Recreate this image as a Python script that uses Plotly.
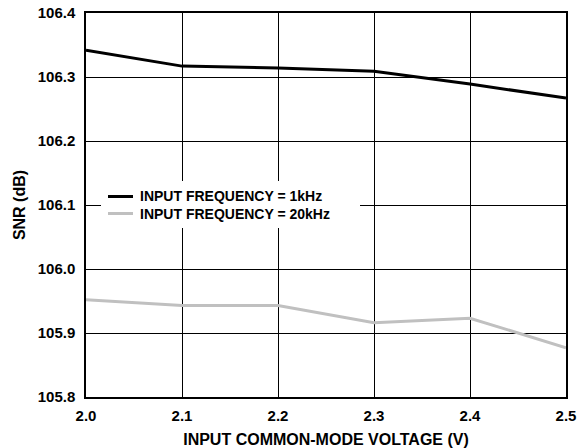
import plotly.graph_objects as go

voltage = [2.0, 2.1, 2.2, 2.3, 2.4, 2.5]
snr_1khz = [106.342, 106.317, 106.314, 106.309, 106.289, 106.267]
snr_20khz = [105.952, 105.943, 105.943, 105.916, 105.923, 105.877]
x_ticks = [2.0, 2.1, 2.2, 2.3, 2.4, 2.5]
y_ticks = [105.8, 105.9, 106.0, 106.1, 106.2, 106.3, 106.4]
series_names = ["INPUT FREQUENCY = 1kHz", "INPUT FREQUENCY = 20kHz"]
series_colors = ["#000000", "#c0c0c0"]

font_family = "Liberation Sans, Arial, sans-serif"

# plot area in pixels (for converting legend layout to paper coords)
L, T, W, H = 86, 13, 480, 384
def px(x):
    return (x - L) / W
def py(y):
    return 1 - (y - T) / H

fig = go.Figure()
for vals, name, col in zip([snr_1khz, snr_20khz], series_names, series_colors):
    fig.add_trace(go.Scatter(x=voltage, y=vals, mode="lines", name=name,
                             showlegend=False,
                             line=dict(color=col, width=3)))

# legend drawn in paper coordinates
shapes = [dict(type="rect", xref="paper", yref="paper",
               x0=px(101), x1=px(360), y0=py(228), y1=py(181),
               fillcolor="white", line=dict(width=0), layer="above")]
annotations = []
for i, (name, col) in enumerate(zip(series_names, series_colors)):
    yy = py(196.5 + 17 * i)
    shapes.append(dict(type="line", xref="paper", yref="paper",
                       x0=px(108), x1=px(133), y0=yy, y1=yy,
                       line=dict(color=col, width=3), layer="above"))
    annotations.append(dict(xref="paper", yref="paper", x=px(139), y=yy,
                            xanchor="left", yanchor="middle", showarrow=False,
                            text=name, borderpad=0,
                            font=dict(family=font_family, size=14,
                                      color="black", weight="bold")))

fig.update_layout(
    width=583, height=448,
    margin=dict(l=L, r=583 - L - W, t=T, b=448 - T - H, autoexpand=False),
    paper_bgcolor="white", plot_bgcolor="white",
    font=dict(family=font_family, size=14, color="black"),
    showlegend=False,
    shapes=shapes,
    annotations=annotations,
    xaxis=dict(range=[2.0, 2.5], tickvals=x_ticks,
               ticktext=[f"{v:.1f}" for v in x_ticks],
               showgrid=True, gridcolor="black", gridwidth=1,
               showline=True, linecolor="black", linewidth=1.5, mirror=True,
               ticks="", zeroline=False, automargin=False,
               ticklabelstandoff=4,
               tickfont=dict(size=15, weight="bold"),
               title=dict(text="INPUT COMMON-MODE VOLTAGE (V)",
                          font=dict(size=16, weight="bold"), standoff=12)),
    yaxis=dict(range=[105.8, 106.4], tickvals=y_ticks,
               ticktext=[f"{v:.1f}" for v in y_ticks],
               showgrid=True, gridcolor="black", gridwidth=1,
               showline=True, linecolor="black", linewidth=1.5, mirror=True,
               ticks="", zeroline=False, automargin=False,
               ticklabelstandoff=6,
               tickfont=dict(size=15, weight="bold"),
               title=dict(text="SNR (dB)", font=dict(size=16, weight="bold"),
                          standoff=8)),
)

fig.write_html("out.html", config={"displayModeBar": False},
               post_script="document.body.style.margin='0';document.body.style.padding='0';")
